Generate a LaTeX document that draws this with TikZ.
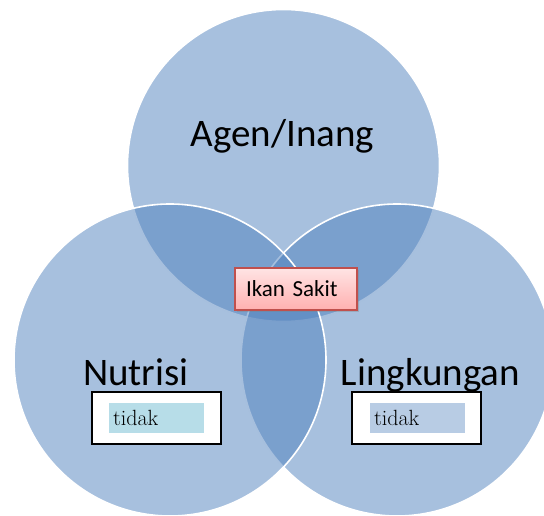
\documentclass[tikz,border=0pt]{standalone}
\usepackage{fontspec}
\newfontfamily\calibri{Carlito}
\usetikzlibrary{shadows}
\definecolor{vennblue}{HTML}{4F81BD}
\definecolor{sakitred}{HTML}{C0504D}
\definecolor{sakittop}{HTML}{FFE4E4}
\definecolor{sakitbot}{HTML}{FFB0B0}
\definecolor{tealbox}{HTML}{B7DDE8}
\definecolor{bluebox}{HTML}{B8CCE4}

\begin{document}
\begin{tikzpicture}[x=1pt,y=-1pt,
	venn/.style={circle,minimum size=312pt,inner sep=0pt,fill=vennblue,fill opacity=0.5,draw=white,line width=1.6pt},
	setname/.style={anchor=base,inner sep=0pt,font=\calibri\fontsize{39}{39}\selectfont},
	outerbox/.style={draw=black,fill=white,line width=1.6pt,minimum width=129pt,minimum height=52pt,inner sep=0pt},
	innerbox/.style={text width=87pt,inner xsep=4pt,inner ysep=0pt,minimum height=30pt,align=left,font=\fontsize{22}{22}\selectfont}]
		\useasboundingbox (0,0) rectangle (544,516);
		\clip (0,0) rectangle (544,516);
		\node[venn] (agen) at (283.5,165.5) {};
		\node[venn] (lingkungan) at (397,360) {};
		\node[venn] (nutrisi) at (170,360) {};
		\node[setname] (agenname) at (282.5,147) {Agen/Inang};
		\node[setname] (nutrisiname) at (136,385) {Nutrisi};
		\node[setname] (lingkunganname) at (430.5,385) {Lingkungan};
		\node[draw=sakitred,line width=1.6pt,top color=sakittop,bottom color=sakitbot,
			text width=100pt,inner xsep=11pt,inner ysep=0pt,minimum height=42pt,align=left,
			font=\calibri\fontsize{23}{23}\selectfont,
			drop shadow={shadow xshift=1.5pt,shadow yshift=-1.5pt,opacity=0.35}] (sakit) at (296,289) {Ikan Sakit};
		\node[outerbox] (nutrisibox) at (156.5,418) {};
		\node[innerbox,fill=tealbox] (nutrisitidak) at (nutrisibox) {tidak};
		\node[outerbox] (lingkunganbox) at (416.5,418) {};
		\node[innerbox,fill=bluebox] (lingkungantidak) at (417.5,418) {tidak};
	\end{tikzpicture}
\end{document}
